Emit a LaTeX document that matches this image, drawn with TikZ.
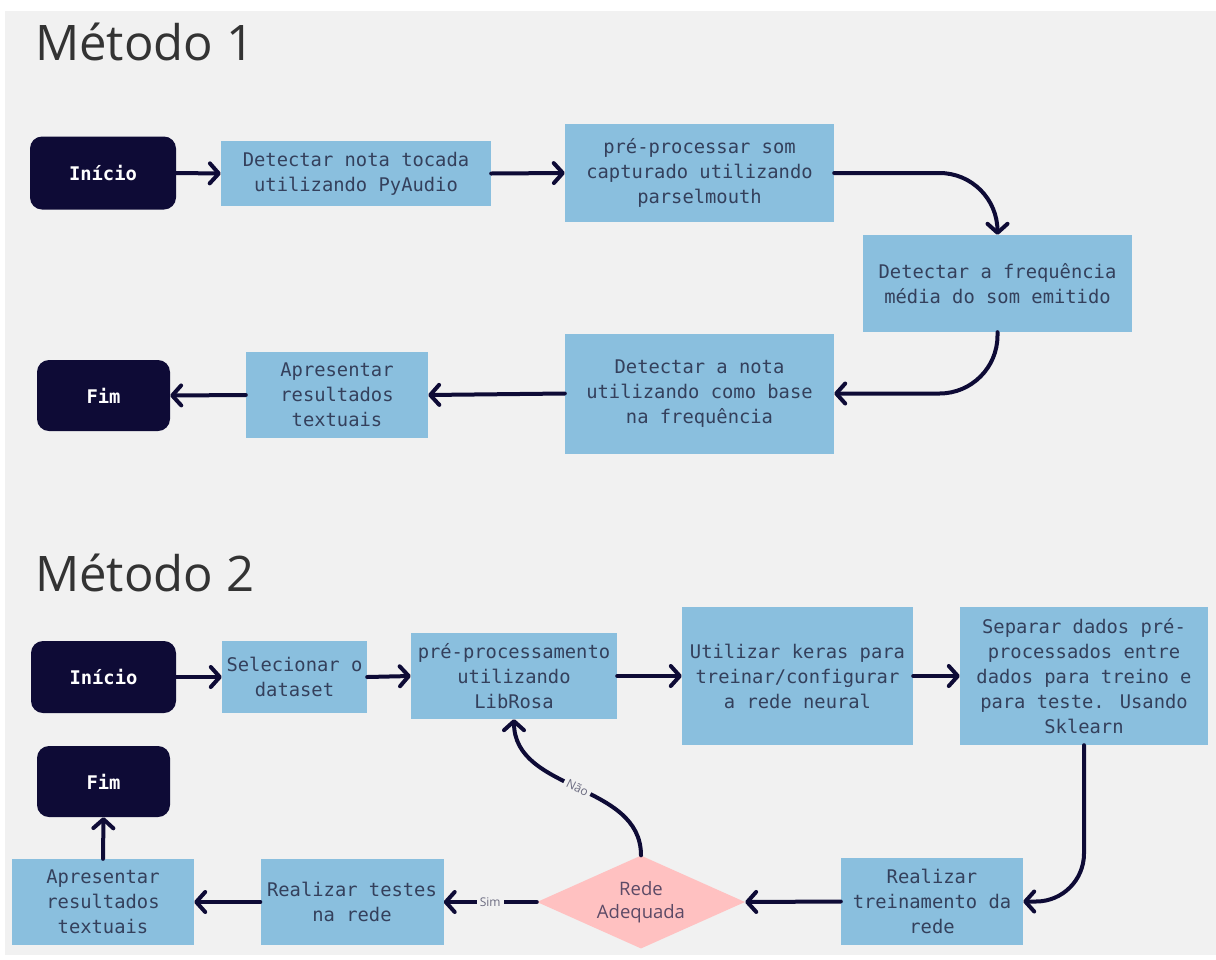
\documentclass[tikz,border=0pt]{standalone}
\usepackage{fontspec}
\setmainfont{Open Sans}
\newfontfamily\monof{DejaVu Sans Mono}
\usetikzlibrary{arrows.meta,shapes.geometric}
\definecolor{bgc}{HTML}{F1F1F1}
\definecolor{boxblue}{HTML}{8ABFDE}
\definecolor{navy}{HTML}{0E0B36}
\definecolor{textblue}{HTML}{34405C}
\definecolor{pinkc}{HTML}{FFC1C1}
\definecolor{diatext}{HTML}{5C4A66}
\definecolor{titlec}{HTML}{333333}
\definecolor{lblc}{HTML}{6B6B80}
\tikzset{
  proc/.style={rectangle, fill=boxblue, text=textblue, align=center, inner sep=0pt,
    font=\monof\fontsize{18.8}{25}\selectfont},
  term/.style={rectangle, rounded corners=12pt, fill=navy, text=white, inner sep=0pt,
    font=\monof\bfseries\fontsize{18.8}{25}\selectfont},
  decision/.style={diamond, aspect=2.24, fill=pinkc, text=diatext, align=center, inner sep=0pt,
    font=\fontsize{18.5}{23}\selectfont},
  arr/.style={draw=navy, line width=4pt, line cap=round, line join=round,
    -{Straight Barb[length=9pt,width=20pt,round]}},
  lbl/.style={fill=bgc, text=lblc, inner sep=3pt, font=\fontsize{12}{14}\selectfont},
  title/.style={anchor=base west, text=titlec, inner sep=0pt, font=\fontsize{49}{55}\selectfont}
}
\begin{document}
\begin{tikzpicture}[x=1pt,y=-1pt]
\useasboundingbox (0,0) rectangle (1216,959);
\fill[white] (0,0) rectangle (1216,959);
\fill[bgc] (5,11) rectangle (1216,955);

% Método 1
\node[title] (t1) at (35,60) {Método 1};
\node[term, minimum width=146pt, minimum height=73pt] (i1) at (103,173) {Início};
\node[proc, minimum width=270pt, minimum height=65pt] (a1) at (356,173.5) {Detectar nota tocada\\utilizando PyAudio};
\node[proc, minimum width=269pt, minimum height=98pt] (b1) at (699.5,173) {pré-processar som\\capturado utilizando\\parselmouth};
\node[proc, minimum width=269pt, minimum height=97pt] (c1) at (997.5,283.5) {Detectar a frequência\\média do som emitido};
\node[proc, minimum width=269pt, minimum height=120pt] (d1) at (699.5,393.5) {Detectar a nota\\utilizando como base\\na frequência};
\node[proc, minimum width=182pt, minimum height=86pt] (e1) at (337,395) {Apresentar\\resultados\\textuais};
\node[term, minimum width=133pt, minimum height=71pt] (f1) at (103.5,395.5) {Fim};

\draw[arr] (i1.east) -- (a1.west);
\draw[arr] (a1.east) -- (b1.west);
\draw[arr, rounded corners=58pt] (b1.east) -| (c1.north);
\draw[arr, rounded corners=58pt] (c1.south) |- (d1.east);
\draw[arr] (d1.west) -- (e1.east);
\draw[arr] (e1.west) -- (f1.east);

% Método 2
\node[title] (t2) at (35,591) {Método 2};
\node[term, minimum width=145pt, minimum height=72pt] (i2) at (103.5,677) {Início};
\node[proc, minimum width=145pt, minimum height=72pt] (sel) at (294.5,677) {Selecionar o\\dataset};
\node[proc, minimum width=206pt, minimum height=86pt] (lib) at (514,676) {pré-processamento\\utilizando\\LibRosa};
\node[proc, minimum width=231pt, minimum height=138pt] (ker) at (797.5,676) {Utilizar keras para\\treinar/configurar\\a rede neural};
\node[proc, minimum width=248pt, minimum height=138pt] (sep) at (1084,676) {Separar dados pré-\\processados entre\\dados para treino e\\para teste. Usando\\Sklearn};
\node[proc, minimum width=182pt, minimum height=87pt] (tr) at (932,901.5) {Realizar\\treinamento da\\rede};
\node[decision, minimum width=208pt, minimum height=93pt] (dia) at (641,902) {Rede\\Adequada};
\node[proc, minimum width=183pt, minimum height=86pt] (te) at (352,902) {Realizar testes\\na rede};
\node[proc, minimum width=182pt, minimum height=86pt] (ap2) at (103,902) {Apresentar\\resultados\\textuais};
\node[term, minimum width=133pt, minimum height=71pt] (f2) at (103.5,781.5) {Fim};

\draw[arr] (i2.east) -- (sel.west);
\draw[arr] (sel.east) -- (lib.west);
\draw[arr] (lib.east) -- (ker.west);
\draw[arr] (ker.east) -- (sep.west);
\draw[arr, rounded corners=48pt] (sep.south) |- (tr.east);
\draw[arr] (tr.west) -- (dia.east);
\draw[arr] (dia.west) -- node[lbl] {Sim} (te.east);
\draw[arr] (dia.north) to[out=90,in=-90] node[lbl, sloped] {Não} (lib.south);
\draw[arr] (te.west) -- (ap2.east);
\draw[arr] (ap2.north) -- (f2.south);
\end{tikzpicture}
\end{document}
